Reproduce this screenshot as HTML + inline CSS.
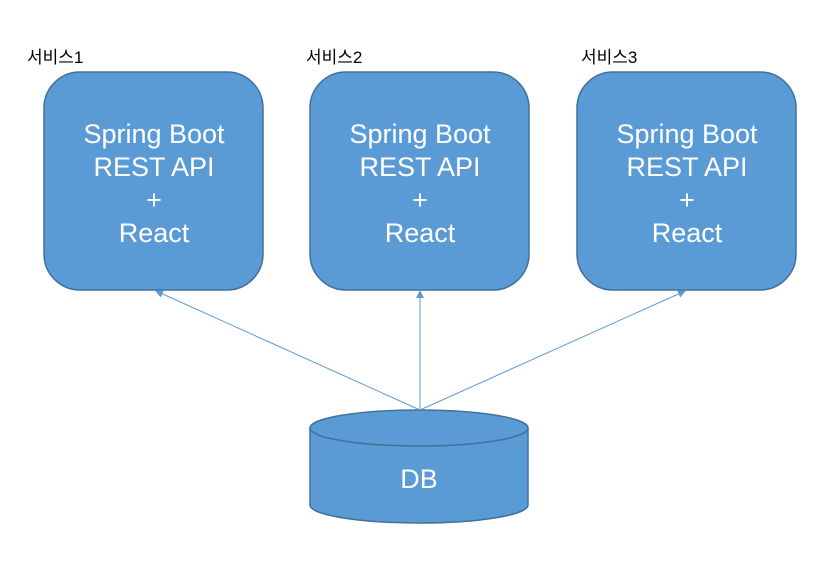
<!DOCTYPE html>
<html><head><meta charset="utf-8"><style>
html,body{margin:0;padding:0;background:#fff;width:834px;height:562px;overflow:hidden}
svg text{font-family:"Liberation Sans","Noto Sans CJK KR",sans-serif}
</style></head><body>
<svg width="834" height="562" viewBox="0 0 834 562" xmlns="http://www.w3.org/2000/svg">
<defs><marker id="a" markerWidth="8" markerHeight="8" refX="7" refY="4" orient="auto" markerUnits="userSpaceOnUse"><path d="M0,0 L8,4 L0,8 z" fill="#5b9bd5"/></marker></defs>
<g fill="#5b9bd5" stroke="#41719c" stroke-width="1.5">
<rect x="44" y="72" width="219" height="218" rx="36"/>
<rect x="310" y="72" width="219" height="218" rx="36"/>
<rect x="577" y="72" width="219" height="218" rx="36"/>
<path d="M310,428 L310,505 A109,18 0 0 0 528,505 L528,428"/>
<ellipse cx="419" cy="428" rx="109" ry="18"/>
</g>
<g stroke="#5b9bd5" stroke-width="1" fill="none">
<line x1="420" y1="410" x2="156" y2="291" marker-end="url(#a)"/>
<line x1="420" y1="410" x2="420" y2="291" marker-end="url(#a)"/>
<line x1="420" y1="410" x2="685" y2="291" marker-end="url(#a)"/>
</g>
<g fill="#000" font-size="17">
<text x="27" y="63">서비스1</text>
<text x="306" y="63">서비스2</text>
<text x="581" y="63">서비스3</text>
</g>
<g fill="#fff" font-size="27" text-anchor="middle">
<text x="154" y="143">Spring Boot</text><text x="154" y="176">REST API</text><text x="154" y="209">+</text><text x="154" y="242">React</text>
<text x="420" y="143">Spring Boot</text><text x="420" y="176">REST API</text><text x="420" y="209">+</text><text x="420" y="242">React</text>
<text x="687" y="143">Spring Boot</text><text x="687" y="176">REST API</text><text x="687" y="209">+</text><text x="687" y="242">React</text>
<text x="419" y="488">DB</text>
</g>
</svg>
</body></html>
